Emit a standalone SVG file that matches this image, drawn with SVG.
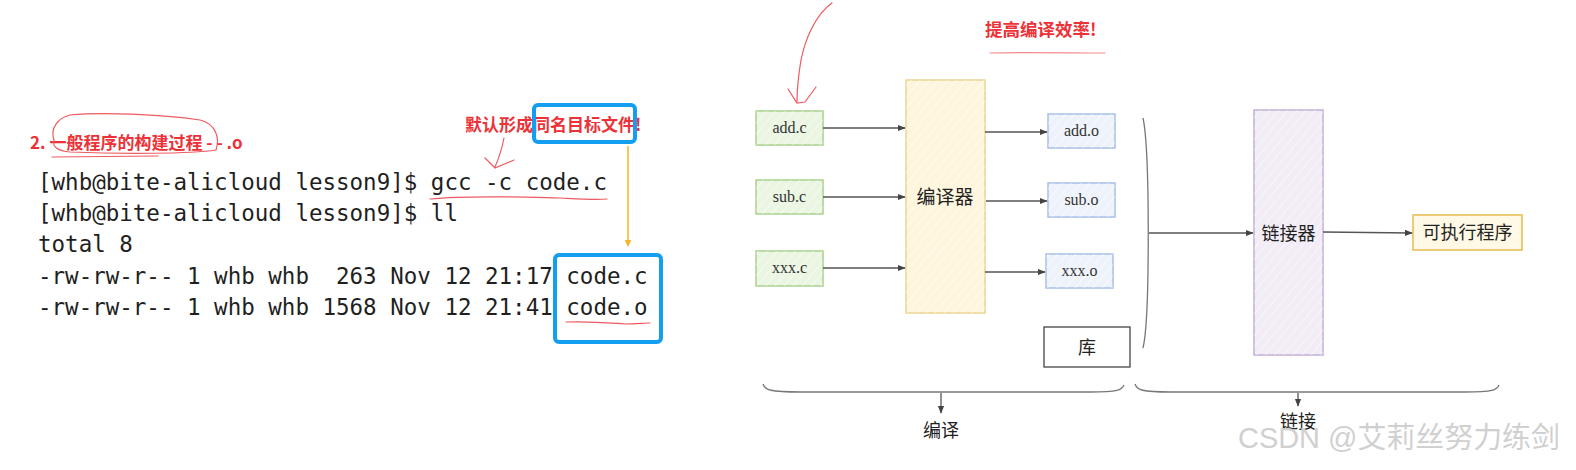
<svg xmlns="http://www.w3.org/2000/svg" width="1576" height="470" viewBox="0 0 1576 470">
<style>
.term{font-family:"DejaVu Sans Mono","Liberation Mono",monospace;font-size:22.5px;fill:#1f1f1f;white-space:pre}
.red{font-family:"Noto Sans CJK SC","Noto Sans",sans-serif;font-weight:bold;fill:#ec3238}
.sk{fill:none;stroke:#ef5a60;stroke-width:1.2;stroke-linecap:round}
.file{font-family:"Liberation Serif","DejaVu Serif",serif;font-size:16px;fill:#333;text-anchor:middle}
.cn{font-family:"Noto Sans CJK SC",sans-serif;fill:#222;text-anchor:middle}
.conn{fill:none;stroke:#555;stroke-width:1.3}
.brace{fill:none;stroke:#777;stroke-width:1.3}
</style>
<defs>
<pattern id="hatch" patternUnits="userSpaceOnUse" width="7" height="7" patternTransform="rotate(40)">
<line x1="0" y1="0" x2="0" y2="7" stroke="#ffffff" stroke-width="1.4" opacity="0.7"/>
</pattern>
<marker id="ah" viewBox="0 0 10 10" refX="9" refY="5" markerWidth="6" markerHeight="6" orient="auto">
<path d="M0,1 L10,5 L0,9 z" fill="#444"/>
</marker>
<marker id="ahy" viewBox="0 0 10 10" refX="9" refY="5" markerWidth="4.5" markerHeight="4.5" orient="auto">
<path d="M0,0 L10,5 L0,10 z" fill="#f5b42a"/>
</marker>
</defs>
<rect width="1576" height="470" fill="#fff"/>

<!-- left: terminal screenshot -->
<g id="title">
<text class="red" x="30" y="149" font-size="17">2. 一般程序的构建过程 - - .o</text>
<path class="sk" d="M54,140 C50,128 58,118 70,115 C100,112 160,114 200,120 C216,124 220,138 216,150 C190,154 120,154 70,152 C58,151 52,147 54,140"/>
<path class="sk" d="M52,157 L158,156"/>
</g>
<g id="note1">
<text class="red" x="465" y="131" font-size="17">默认形成同名目标文件!</text>
<rect x="534" y="105" width="101" height="37" rx="4" fill="none" stroke="#149ef2" stroke-width="4"/>
<path class="sk" d="M504,138 C502,148 499,158 495,167 M485,158 L495,168 L514,160"/>
</g>
<g id="terminal">
<text class="term" x="38" y="190" xml:space="preserve">[whb@bite-alicloud lesson9]$ gcc -c code.c</text>
<text class="term" x="38" y="221" xml:space="preserve">[whb@bite-alicloud lesson9]$ ll</text>
<text class="term" x="38" y="252" xml:space="preserve">total 8</text>
<text class="term" x="38" y="284" xml:space="preserve">-rw-rw-r-- 1 whb whb  263 Nov 12 21:17 code.c</text>
<text class="term" x="38" y="315" xml:space="preserve">-rw-rw-r-- 1 whb whb 1568 Nov 12 21:41 code.o</text>
<path class="sk" d="M430,199 C470,195 520,197 560,198 C580,199 595,200 607,199"/>
<path class="sk" d="M566,322 C590,321 610,323 625,324 C635,324 645,323 650,323"/>
<rect x="555" y="255" width="106" height="87" rx="4" fill="none" stroke="#149ef2" stroke-width="4"/>
<line x1="628" y1="146" x2="628" y2="246" stroke="#f5b42a" stroke-width="1.5" marker-end="url(#ahy)"/>
</g>

<!-- right: build diagram -->
<g id="red-arrow">
<path class="sk" d="M832,3 C815,15 805,40 801,60 C798,78 797,90 797,102"/>
<path class="sk" d="M788,89 L797,103 L805,102 L816,87"/>
<text class="red" x="985" y="36" font-size="17.5">提高编译效率!</text>
<path class="sk" d="M990,53 C1030,52 1070,53 1105,53" opacity="0.7"/>
</g>

<g id="add-c"><rect x="756" y="111" width="67" height="34" fill="#eaf5e2" stroke="#a9d18e" stroke-width="1.5"/><rect x="756" y="111" width="67" height="34" fill="url(#hatch)"/><text class="file" x="789.5" y="133">add.c</text></g>
<g id="sub-c"><rect x="756" y="180" width="67" height="34" fill="#eaf5e2" stroke="#a9d18e" stroke-width="1.5"/><rect x="756" y="180" width="67" height="34" fill="url(#hatch)"/><text class="file" x="789.5" y="202">sub.c</text></g>
<g id="xxx-c"><rect x="756" y="251" width="67" height="35" fill="#eaf5e2" stroke="#a9d18e" stroke-width="1.5"/><rect x="756" y="251" width="67" height="35" fill="url(#hatch)"/><text class="file" x="789.5" y="273">xxx.c</text></g>

<g id="compiler"><rect x="906" y="80" width="79" height="233" fill="#fdf6dc" stroke="#ecd491" stroke-width="1.5"/><rect x="906" y="80" width="79" height="233" fill="url(#hatch)"/><text class="cn" x="945" y="204" font-size="19">编译器</text></g>

<g id="add-o"><rect x="1048" y="114" width="67" height="34" fill="#eef3fb" stroke="#a9c0e6" stroke-width="1.5"/><rect x="1048" y="114" width="67" height="34" fill="url(#hatch)"/><text class="file" x="1081.5" y="136">add.o</text></g>
<g id="sub-o"><rect x="1048" y="183" width="67" height="34" fill="#eef3fb" stroke="#a9c0e6" stroke-width="1.5"/><rect x="1048" y="183" width="67" height="34" fill="url(#hatch)"/><text class="file" x="1081.5" y="205">sub.o</text></g>
<g id="xxx-o"><rect x="1046" y="254" width="67" height="34" fill="#eef3fb" stroke="#a9c0e6" stroke-width="1.5"/><rect x="1046" y="254" width="67" height="34" fill="url(#hatch)"/><text class="file" x="1079.5" y="276">xxx.o</text></g>

<g id="lib"><rect x="1044" y="327" width="86" height="40" fill="#fff" stroke="#444" stroke-width="1.3"/><text class="cn" x="1087" y="354" font-size="18">库</text></g>

<g id="linker"><rect x="1254" y="110" width="69" height="245" fill="#f2ecf6" stroke="#c4b0d6" stroke-width="1.5"/><rect x="1254" y="110" width="69" height="245" fill="url(#hatch)"/><text class="cn" x="1288.5" y="240" font-size="18">链接器</text></g>

<g id="exe"><rect x="1413" y="215" width="109" height="35" fill="#fff9e6" stroke="#e9c66a" stroke-width="1.8"/><text class="cn" x="1467.5" y="239" font-size="18">可执行程序</text></g>

<g id="connectors">
<path class="conn" d="M823,128 L905,128" marker-end="url(#ah)"/>
<path class="conn" d="M823,197 L905,197" marker-end="url(#ah)"/>
<path class="conn" d="M823,268 L905,268" marker-end="url(#ah)"/>
<path class="conn" d="M985,132 L1047,132" marker-end="url(#ah)"/>
<path class="conn" d="M986,201 L1047,201" marker-end="url(#ah)"/>
<path class="conn" d="M985,272 L1045,272" marker-end="url(#ah)"/>
<path class="brace" d="M1143,118 C1150,150 1150,320 1143,348"/>
<path class="conn" d="M1149,233 L1253,233" marker-end="url(#ah)"/>
<path class="conn" d="M1323,232 L1412,233" marker-end="url(#ah)"/>
<path class="brace" d="M763,384 C765,390 770,392 800,392 L1090,392 C1118,392 1122,390 1124,385"/>
<path class="conn" d="M941,393 L941,413" marker-end="url(#ah)"/>
<path class="brace" d="M1135,384 C1137,390 1142,392 1170,392 L1465,392 C1493,392 1497,390 1499,385"/>
<path class="conn" d="M1298,393 L1298,406" marker-end="url(#ah)"/>
</g>

<g id="labels">
<text class="cn" x="941" y="437" font-size="18">编译</text>
<text class="cn" x="1298" y="428" font-size="18">链接</text>
<text x="1238" y="448" font-family="Liberation Sans,Noto Sans CJK SC,sans-serif" font-size="29" fill="#d0d0d0" textLength="322" lengthAdjust="spacingAndGlyphs">CSDN @艾莉丝努力练剑</text>
</g>
</svg>
